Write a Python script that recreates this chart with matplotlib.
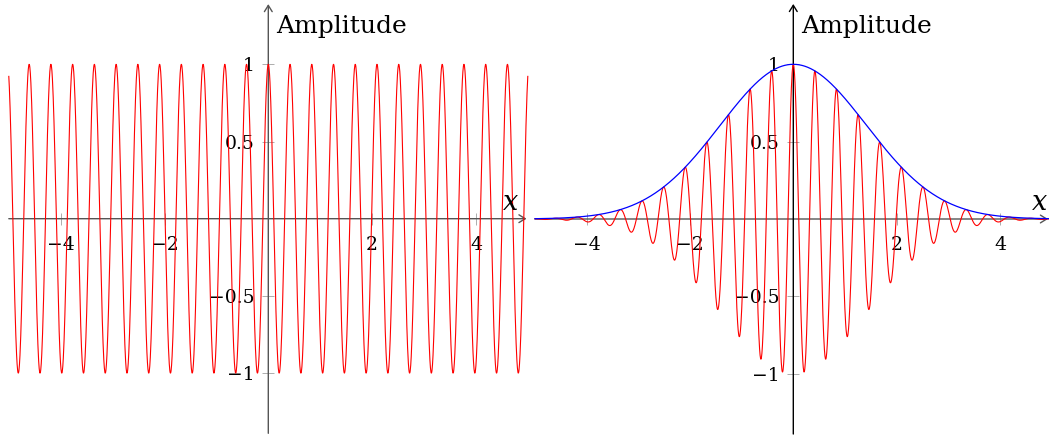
import numpy as np
import matplotlib
matplotlib.use('Agg')
import matplotlib.pyplot as plt

plt.rcParams['font.family'] = ['DejaVu Serif']
plt.rcParams['mathtext.fontset'] = 'dejavuserif'

# Data
x_domain = [-5, 5]
carrier_omega = 15.0        # cos(15 x)
envelope_scale = 2.0        # exp(-(x / 2)^2)
n_samples = 2000

x_ticks = [-4, -2, 2, 4]
x_ticklabels = ['\u22124', '\u22122', '2', '4']
y_ticks = [-1, -0.5, 0.5, 1]
y_ticklabels = ['\u22121', '\u22120.5', '0.5', '1']
y_label = 'Amplitude'
x_label = '$x$'

# Layout (pixel mapping of the 1049x440 canvas)
W, H = 1049, 440
panels = [
    # axes px-left, px-width, x0 px, x unit px, y0 px, y unit px, axis x end
    dict(left=0, width=530, x0=268.3, xu=51.9, y0=218.7, yu=154.4,
         xend=4.975, hcol='#555555', vcol='#555555', xlab=4.66),
    dict(left=530, width=519, x0=793.3, xu=51.66, y0=219.0, yu=154.7,
         xend=4.93, hcol='#555555', vcol='black', xlab=4.76),
]

x = np.linspace(x_domain[0], x_domain[1], n_samples)
carrier = np.cos(carrier_omega * x)
envelope = np.exp(-(x / envelope_scale) ** 2)

fig = plt.figure(figsize=(W / 100, H / 100), dpi=100)

for i, p in enumerate(panels):
    ax = fig.add_axes([p['left'] / W, 0, p['width'] / W, 1])
    ax.set_xlim((0 - (p['x0'] - p['left'])) / p['xu'],
                (p['left'] + p['width'] - p['x0']) / p['xu'])
    ax.set_ylim(-(H - p['y0']) / p['yu'], p['y0'] / p['yu'])
    ax.patch.set_visible(False)

    for side in ['top', 'right']:
        ax.spines[side].set_visible(False)
    ax.spines['left'].set_position(('data', 0))
    ax.spines['bottom'].set_position(('data', 0))
    ax.spines['left'].set_color('none')
    ax.spines['bottom'].set_color('none')

    if i == 0:
        ax.plot(x, carrier, color='#ff0000', lw=0.8, clip_on=False, zorder=3)
    else:
        ax.plot(x, envelope * carrier, color='#ff0000', lw=0.8,
                clip_on=False, zorder=3)
        ax.plot(x, envelope, color='#0000ff', lw=0.9, clip_on=False, zorder=4)

    # axis lines with arrow heads
    arrow = '->,head_length=0.45,head_width=0.28'
    ax.annotate('', xy=(p['xend'], 0), xytext=(x_domain[0], 0),
                arrowprops=dict(arrowstyle=arrow, lw=1.0, color=p['hcol'],
                                shrinkA=0, shrinkB=0), zorder=2)
    ax.annotate('', xy=(0, 1.39), xytext=(0, -1.39),
                arrowprops=dict(arrowstyle=arrow, lw=1.0, color=p['vcol'],
                                shrinkA=0, shrinkB=0), zorder=2)

    ax.set_xticks(x_ticks, x_ticklabels)
    ax.set_yticks(y_ticks, y_ticklabels)
    ax.tick_params(axis='both', direction='inout', length=8.3, width=0.6,
                   color='#a0a0a0', labelsize=13.5, labelcolor='black')
    ax.tick_params(axis='x', pad=8.0)
    ax.tick_params(axis='y', pad=6.0)

    ax.annotate(y_label, xy=(0, 1.2), xytext=(5.5, 0),
                textcoords='offset points', ha='left', va='baseline',
                fontsize=18)
    ax.annotate(x_label, xy=(p['xlab'], 0), xytext=(0, 6.3),
                textcoords='offset points', ha='center', va='baseline',
                fontsize=19.5)

fig.savefig('out.png', dpi=100)
